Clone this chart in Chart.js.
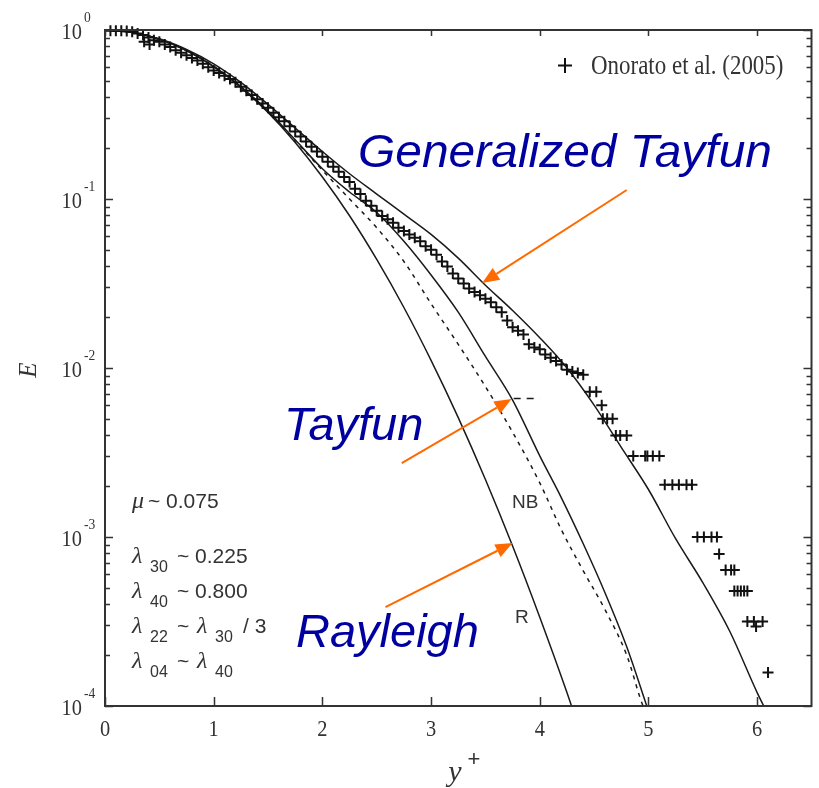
<!DOCTYPE html>
<html lang="en">
<head>
<meta charset="UTF-8">
<title>Wave crest exceedance probability</title>
<script src="https://cdn.jsdelivr.net/npm/chart.js"></script>
<style>
  html, body { margin: 0; padding: 0; background: #fff; }
  #wrap { width: 819px; height: 788px; }
</style>
</head>
<body>
<div id="wrap"><canvas id="crestChart" width="819" height="788"></canvas></div>
<script>
const onoratoX = [
  0.05,0.10,0.15,0.20,0.25,0.30,0.35,0.40,0.45,0.50,
  0.55,0.60,0.65,0.70,0.75,0.80,0.85,0.90,0.95,1.00,
  1.05,1.10,1.15,1.20,1.25,1.30,1.35,1.40,1.45,1.50,
  1.55,1.60,1.65,1.70,1.75,1.80,1.85,1.90,1.95,2.00,
  2.05,2.10,2.15,2.20,2.25,2.30,2.35,2.40,2.45,2.50,
  2.55,2.60,2.65,2.70,2.75,2.80,2.85,2.90,2.95,3.00,
  3.05,3.10,3.15,3.20,3.25,3.30,3.35,3.40,3.45,3.50,
  3.55,3.60,3.65,3.70,3.75,3.80,3.85,3.90,3.95,4.00,
  4.05,4.10,4.15,4.20,4.25,4.30,4.35,4.40,
  0.36,0.41,
  4.46,4.52,4.57,4.58,4.62,4.67,4.70,4.74,4.80,
  4.86,4.97,4.99,5.04,5.10,
  5.15,5.22,5.28,5.35,5.40,
  5.45,5.51,5.58,5.63,5.65,
  5.71,5.76,5.79,
  5.79,5.82,5.85,5.88,5.91,
  5.91,5.97,5.99,6.05,6.10
];
const onoratoE = [
  0.989,0.989,0.989,0.987,0.977,0.955,0.933,0.902,0.871,0.851,
  0.822,0.794,0.759,0.733,0.708,0.684,0.661,0.631,0.603,0.575,
  0.556,0.537,0.513,0.490,0.462,0.437,0.412,0.389,0.367,0.347,
  0.324,0.305,0.288,0.269,0.251,0.234,0.219,0.204,0.191,0.178,
  0.166,0.155,0.145,0.135,0.126,0.115,0.107,0.0977,0.0912,0.0851,
  0.0794,0.0759,0.0724,0.0676,0.0646,0.0617,0.0589,0.0562,0.0525,0.0501,
  0.0468,0.0427,0.0398,0.0363,0.0339,0.0316,0.0295,0.0282,0.0269,0.0257,
  0.0245,0.0229,0.0214,0.0191,0.0174,0.0166,0.0158,0.0138,0.0132,0.0129,
  0.0120,0.0115,0.0110,0.0105,0.00977,0.00955,0.00933,0.00912,
  0.851,0.822,
  0.00724,0.00724,0.00603,0.00501,0.00501,0.00501,0.00398,0.00398,0.00398,
  0.00302,0.00302,0.00302,0.00302,0.00302,
  0.00204,0.00204,0.00204,0.00204,0.00204,
  0.00100,0.00100,0.00100,0.00100,0.000794,
  0.000638,0.000638,0.000638,
  0.000479,0.000479,0.000479,0.000479,0.000479,
  0.000316,0.000316,0.000295,0.000316,0.000158
];

// Rayleigh (R)
const rayleighX = [0,0.25,0.5,0.75,1,1.25,1.5,1.75,2,2.25,2.5,2.75,3,3.25,3.5,3.75,4,4.25,4.35];
const rayleighE = [1,0.969,0.882,0.755,0.607,0.458,0.325,0.216,0.135,0.0796,0.0439,0.0228,0.0111,0.00509,0.00219,0.000884,0.000335,0.000120,0.0000773];

// Tayfun (second order, solid)
const tayfunX = [0,0.25,0.5,0.75,1,1.25,1.5,1.75,2,2.25,2.5,2.75,3,3.25,3.5,3.75,4,4.2,4.4,4.6,4.8,5.0];
const tayfunE = [1,0.968,0.883,0.755,0.610,0.462,0.331,0.224,0.151,0.110,0.0832,0.0562,0.0355,0.0214,0.0117,0.00646,0.00302,0.00170,0.000912,0.000468,0.000224,0.0000933];

// narrow-band (NB, dashed)
const nbX = [0,0.25,0.5,0.75,1,1.25,1.5,1.75,2,2.25,2.5,2.75,3,3.25,3.5,3.75,4,4.2,4.4,4.6,4.8,4.95,5.0];
const nbE = [1,0.968,0.883,0.755,0.610,0.460,0.329,0.221,0.148,0.100,0.0676,0.0427,0.0240,0.0138,0.00776,0.00417,0.00209,0.00110,0.000631,0.000372,0.000200,0.000100,0.0000870];

// Generalized Tayfun
const genX = [0,0.25,0.5,0.75,1,1.25,1.5,1.75,2,2.25,2.5,2.75,3,3.25,3.5,3.75,4,4.25,4.5,4.75,5,5.25,5.5,5.75,6,6.1];
const genE = [1,0.968,0.887,0.767,0.631,0.490,0.363,0.263,0.191,0.141,0.107,0.0813,0.0617,0.0447,0.0309,0.0219,0.0151,0.0100,0.00603,0.00339,0.00191,0.000977,0.000537,0.000275,0.000120,0.0000891];

// short dashed marker next to the Tayfun arrow
const markX = [3.76, 4.0];
const markE = [0.0066, 0.0066];

const xTicks = [0, 1, 2, 3, 4, 5, 6];
const yDecades = [0, -1, -2, -3, -4];

function pairs(xs, ys) {
  return xs.map((x, i) => ({ x: x, y: ys[i] }));
}

function label(ctx, s, x, y, font, color, align, sx) {
  ctx.save();
  ctx.font = font;
  ctx.fillStyle = color;
  ctx.textAlign = align || 'left';
  ctx.textBaseline = 'alphabetic';
  ctx.translate(x, y);
  ctx.scale(sx || 1, 1);
  ctx.fillText(s, 0, 0);
  ctx.restore();
}

function arrow(ctx, x0, y0, x1, y1) {
  const a = Math.atan2(y1 - y0, x1 - x0);
  const len = 17, half = 7;
  const bx = x1 - len * Math.cos(a), by = y1 - len * Math.sin(a);
  ctx.save();
  ctx.strokeStyle = '#ff6a00';
  ctx.fillStyle = '#ff6a00';
  ctx.lineWidth = 2;
  ctx.beginPath();
  ctx.moveTo(x0, y0);
  ctx.lineTo(bx, by);
  ctx.stroke();
  ctx.beginPath();
  ctx.moveTo(x1, y1);
  ctx.lineTo(bx + half * Math.sin(a), by - half * Math.cos(a));
  ctx.lineTo(bx - half * Math.sin(a), by + half * Math.cos(a));
  ctx.closePath();
  ctx.fill();
  ctx.restore();
}

const overlay = {
  id: 'overlay',
  afterDatasetsDraw(chart) {
    const ctx = chart.ctx;
    const xs = chart.scales.x, ys = chart.scales.y;
    const a = chart.chartArea;
    const ink = '#333';

    // frame
    ctx.save();
    ctx.strokeStyle = ink;
    ctx.lineWidth = 2;
    ctx.strokeRect(a.left, a.top, a.right - a.left, a.bottom - a.top);

    // y ticks (log, inward on both sides)
    ctx.lineWidth = 1.5;
    ctx.beginPath();
    yDecades.forEach(e => {
      for (let m = 1; m <= 9; m++) {
        const v = m * Math.pow(10, e);
        if (v > 1) break;
        const py = Math.round(ys.getPixelForValue(v)) + 0.5;
        const l = m === 1 ? 8 : 5;
        ctx.moveTo(a.left, py); ctx.lineTo(a.left + l, py);
        ctx.moveTo(a.right, py); ctx.lineTo(a.right - l, py);
      }
    });
    // x ticks
    xTicks.forEach(t => {
      const px = Math.round(xs.getPixelForValue(t)) + 0.5;
      ctx.moveTo(px, a.bottom); ctx.lineTo(px, a.bottom - 9);
      ctx.moveTo(px, a.top); ctx.lineTo(px, a.top + 6);
    });
    ctx.stroke();
    ctx.restore();

    // tick labels
    const tickFont = '24px "Liberation Serif", serif';
    yDecades.forEach(e => {
      const py = ys.getPixelForValue(Math.pow(10, e));
      label(ctx, '10', 82, py + 9, tickFont, ink, 'right', 0.85);
      label(ctx, String(e), 84, py - 8, '15px "Liberation Serif", serif', ink, 'left', 0.9);
    });
    xTicks.forEach(t => {
      label(ctx, String(t), xs.getPixelForValue(t), 736, tickFont, ink, 'center', 0.85);
    });

    // axis titles
    ctx.save();
    ctx.translate(36, 370);
    ctx.rotate(-Math.PI / 2);
    label(ctx, 'E', 0, 0, 'italic 25px "Liberation Serif", serif', ink, 'center', 1);
    ctx.restore();
    label(ctx, 'y', 455, 781, 'italic 30px "Liberation Serif", serif', ink, 'center', 1);
    label(ctx, '+', 474, 766, '22px "Liberation Sans", sans-serif', ink, 'center', 1);

    // legend
    ctx.save();
    ctx.strokeStyle = '#111';
    ctx.lineWidth = 2;
    ctx.beginPath();
    ctx.moveTo(558, 65.5); ctx.lineTo(572, 65.5);
    ctx.moveTo(565, 58); ctx.lineTo(565, 73);
    ctx.stroke();
    ctx.restore();
    label(ctx, 'Onorato et al. (2005)', 591, 74, '27px "Liberation Serif", serif', ink, 'left', 0.85);

    // curve tags
    label(ctx, 'NB', 512, 508, '19px "Liberation Sans", sans-serif', ink, 'left', 1);
    label(ctx, 'R', 515, 623, '19px "Liberation Sans", sans-serif', ink, 'left', 1);

    // parameter block
    const sym = 'italic 24px "Liberation Serif", serif';
    const num = '21px "Liberation Sans", sans-serif';
    const sub = '16px "Liberation Sans", sans-serif';
    label(ctx, 'μ', 132, 508, sym, ink);
    label(ctx, '~ 0.075', 148, 508, num, ink);
    const rows = [
      { y: 563, s1: '30', rest: [['~ 0.225', 177]] },
      { y: 598, s1: '40', rest: [['~ 0.800', 177]] },
      { y: 633, s1: '22', rest: [['~', 177]], lam2: '30', tail: '/ 3' },
      { y: 668, s1: '04', rest: [['~', 177]], lam2: '40' }
    ];
    rows.forEach(r => {
      label(ctx, 'λ', 132, r.y, sym, ink);
      label(ctx, r.s1, 150, r.y + 9, sub, ink);
      r.rest.forEach(p => label(ctx, p[0], p[1], r.y, num, ink));
      if (r.lam2) {
        label(ctx, 'λ', 197, r.y, sym, ink);
        label(ctx, r.lam2, 215, r.y + 9, sub, ink);
      }
      if (r.tail) label(ctx, r.tail, 243, r.y, num, ink);
    });

    // blue captions and arrows
    const cap = 'italic 47px "Liberation Sans", sans-serif';
    const blue = '#0000a0';
    label(ctx, 'Generalized Tayfun', 358, 167, cap, blue, 'left', 1.02);
    label(ctx, 'Tayfun', 284, 440, cap, blue);
    label(ctx, 'Rayleigh', 296, 647, cap, blue);

    const P = (x, y) => [xs.getPixelForValue(x), ys.getPixelForValue(y)];
    const arrows = [
      [P(4.80, 0.113), P(3.47, 0.0318)],
      [P(2.73, 0.00274), P(3.74, 0.00656)],
      [P(2.58, 0.000385), P(3.75, 0.00092)]
    ];
    arrows.forEach(ar => arrow(ctx, ar[0][0], ar[0][1], ar[1][0], ar[1][1]));
  }
};

const curve = (xs, ys, dash) => ({
  data: pairs(xs, ys),
  showLine: true,
  pointRadius: 0,
  borderColor: '#1a1a1a',
  borderWidth: 1.5,
  borderDash: dash || [],
  cubicInterpolationMode: 'monotone',
  clip: 0
});

new Chart(document.getElementById('crestChart'), {
  type: 'scatter',
  data: {
    datasets: [
      {
        label: 'Onorato et al. (2005)',
        data: pairs(onoratoX, onoratoE),
        pointStyle: 'cross',
        pointRadius: 5.5,
        borderColor: '#111',
        backgroundColor: '#111',
        borderWidth: 2,
        showLine: false,
        clip: false
      },
      Object.assign({ label: 'Generalized Tayfun' }, curve(genX, genE)),
      Object.assign({ label: 'Tayfun' }, curve(tayfunX, tayfunE)),
      Object.assign({ label: 'NB' }, curve(nbX, nbE, [4, 5])),
      Object.assign({ label: 'Rayleigh' }, curve(rayleighX, rayleighE)),
      Object.assign({ label: 'mark' }, curve(markX, markE, [7, 6]))
    ]
  },
  options: {
    responsive: false,
    animation: false,
    layout: { padding: { left: 105, top: 30, right: 6, bottom: 82 } },
    scales: {
      x: { type: 'linear', min: 0, max: 6.5, display: false },
      y: { type: 'logarithmic', min: 1e-4, max: 1, display: false }
    },
    plugins: {
      legend: { display: false },
      tooltip: { enabled: false }
    }
  },
  plugins: [overlay]
});
</script>
</body>
</html>
